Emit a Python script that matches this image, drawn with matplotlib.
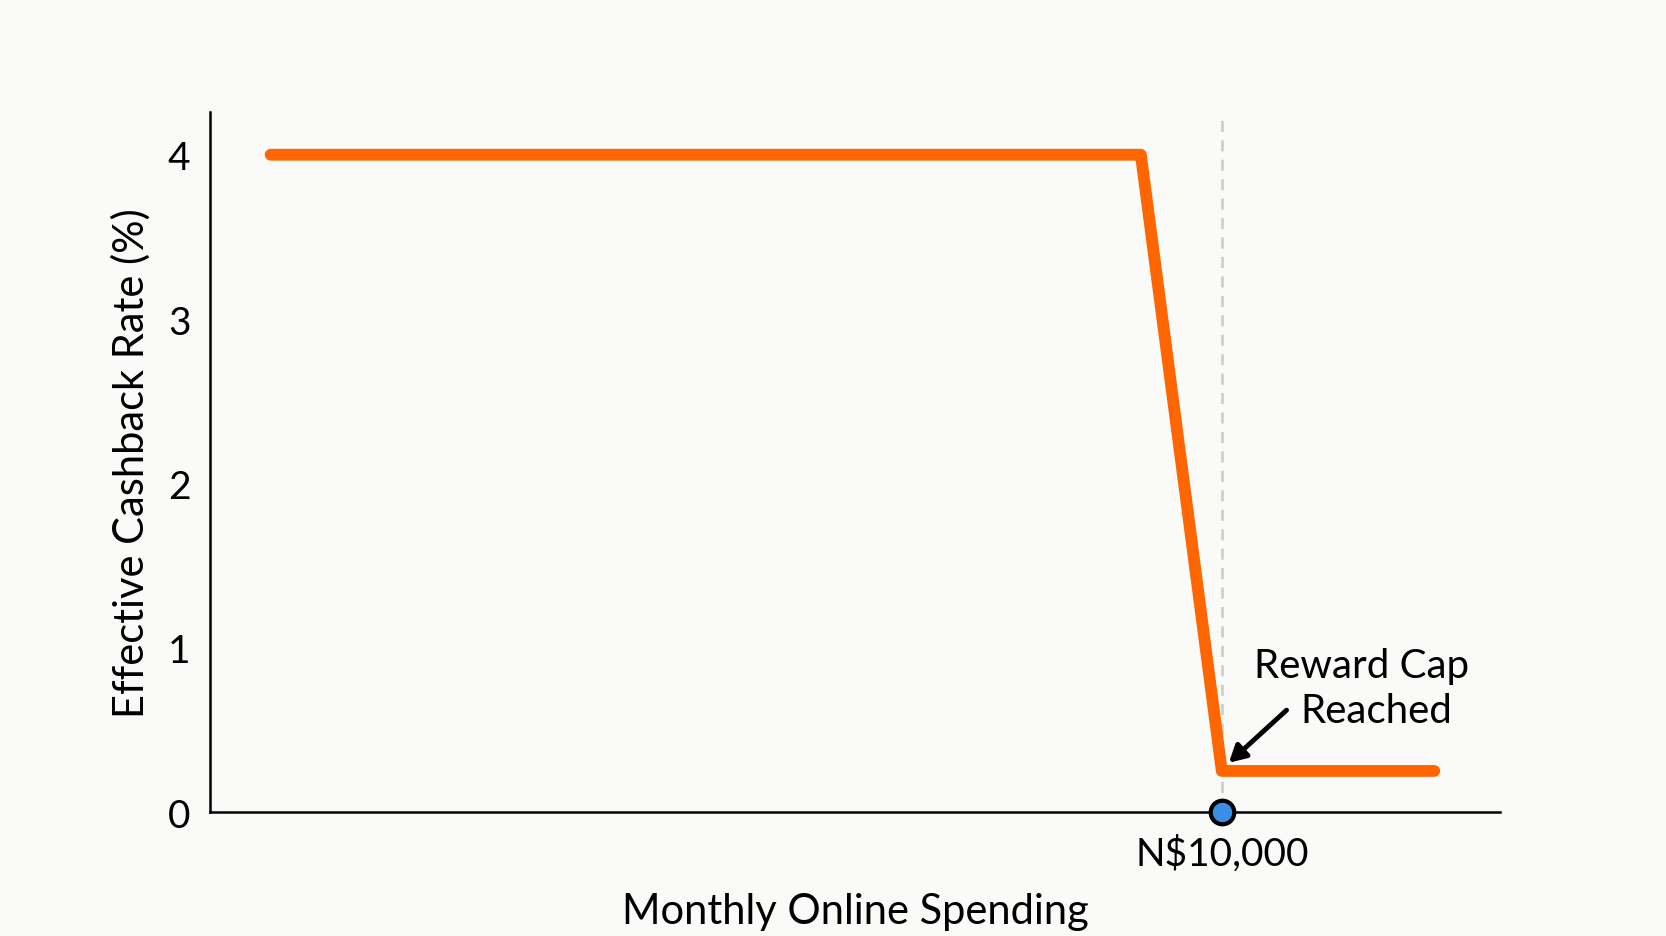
import matplotlib
matplotlib.use("Agg")
import matplotlib.pyplot as plt

# Datos de la curva (gasto mensual en N$, tasa efectiva en %)
spending = [600, 9200, 10000, 12100]
cashback_rate = [4.0, 4.0, 0.25, 0.25]
cap_spending = 10000
y_ticks = [0, 1, 2, 3, 4]
cap_label = "N$10,000"

plt.rcParams['font.family'] = ['Lato', 'DejaVu Sans']

fig = plt.figure(figsize=(16.66, 9.37), dpi=100, facecolor='#fafaf9')
ax = fig.add_axes([0.126, 0.1323, 0.7744, 0.7471])
ax.set_facecolor('none')

ax.set_xlim(0, 12750)
ax.set_ylim(0, 4.26)

# Linea vertical punteada en el tope
ax.axvline(cap_spending, color='#cfcfcf', lw=2, ls=(0, (4, 3)), zorder=1)

ax.plot(spending, cashback_rate, color='#ff6600', lw=8.5,
        solid_capstyle='round', solid_joinstyle='round', zorder=3)

ax.plot([cap_spending], [0], 'o', ms=17, mfc='#3a8ee6', mec='black',
        mew=3, clip_on=False, zorder=5)

# Anotacion del tope
ax.text(11385, 0.89, "Reward Cap", ha='center', va='center', fontsize=29)
ax.text(11530, 0.615, "Reached", ha='center', va='center', fontsize=29)
ax.annotate("", xy=(10070, 0.30), xytext=(10640, 0.62),
            arrowprops=dict(arrowstyle='-|>,head_length=1.0,head_width=0.55',
                            color='black', lw=3.5, shrinkA=0, shrinkB=0))

ax.set_xticks([cap_spending])
ax.set_xticklabels([cap_label], fontsize=28)
ax.set_yticks(y_ticks)
ax.set_yticklabels([str(t) for t in y_ticks], fontsize=28)
ax.tick_params(axis='both', length=0)
ax.tick_params(axis='x', pad=16)
ax.tick_params(axis='y', pad=14)

ax.set_xlabel("Monthly Online Spending", fontsize=30, labelpad=15)
ax.set_ylabel("Effective Cashback Rate (%)", fontsize=30, labelpad=12)

for s in ['top', 'right']:
    ax.spines[s].set_visible(False)
for s in ['left', 'bottom']:
    ax.spines[s].set_linewidth(1.8)
    ax.spines[s].set_color('black')

fig.savefig("out.png", dpi=100, facecolor=fig.get_facecolor())
